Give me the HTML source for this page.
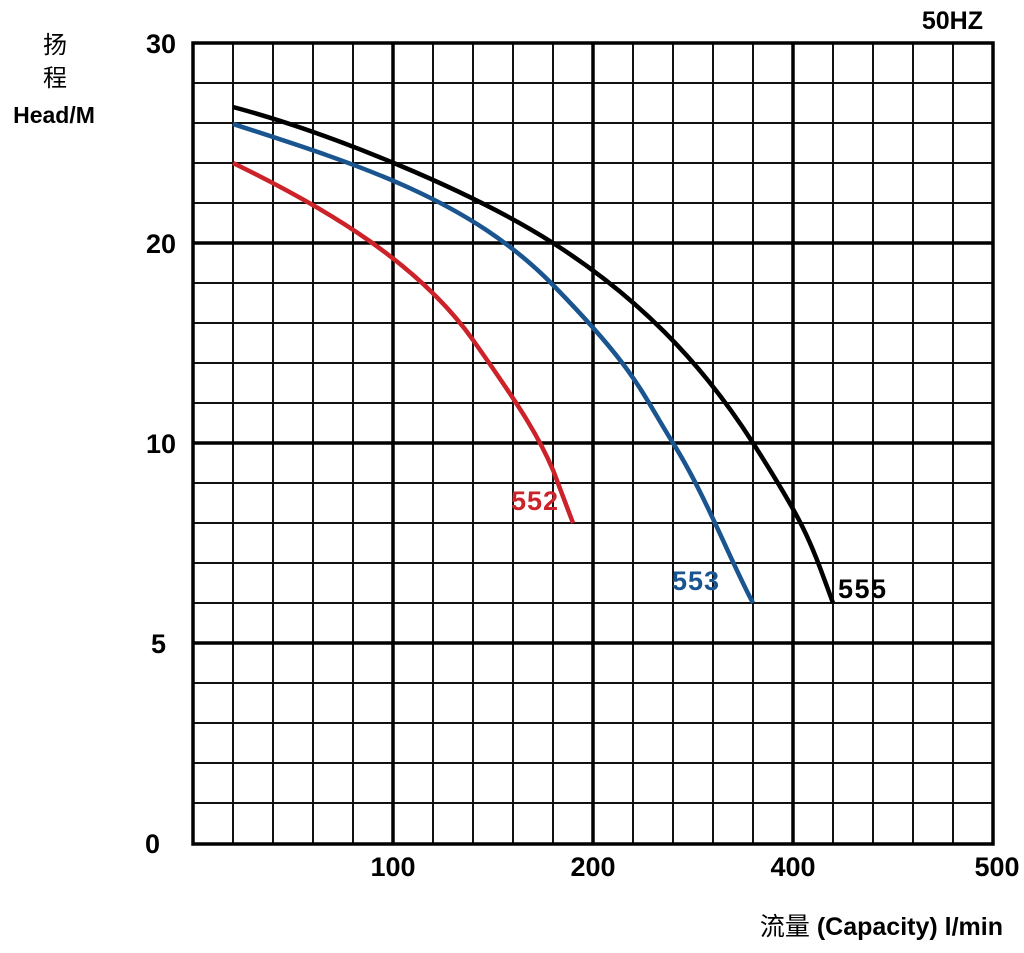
<!DOCTYPE html><html><head><style>body{margin:0;background:#fff;width:1024px;height:948px;overflow:hidden}</style></head><body>
<svg width="1024" height="948" xmlns="http://www.w3.org/2000/svg" font-family="Liberation Sans, Noto Sans CJK SC, sans-serif" font-weight="bold">
<g stroke="#111" stroke-width="2">
<path d="M233 43V844M273 43V844M313 43V844M353 43V844M433 43V844M473 43V844M513 43V844M553 43V844M633 43V844M673 43V844M713 43V844M753 43V844M833 43V844M873 43V844M913 43V844M953 43V844"/>
<path d="M193 83H993M193 123H993M193 163H993M193 203H993M193 283H993M193 323H993M193 363H993M193 403H993M193 483H993M193 523H993M193 563H993M193 603H993M193 683H993M193 723H993M193 763H993M193 803H993"/>
</g>
<g stroke="#000" stroke-width="3.5" fill="none">
<path d="M393 43V844M593 43V844M793 43V844M193 243H993M193 443H993M193 643H993"/>
<rect x="193" y="43" width="800" height="801"/>
</g>
<g fill="none" stroke-width="4.5">
<path d="M233 107 C330 133 470 190 553 243 S700 360 753 443 S810 540 833 603" stroke="#000"/>
<path d="M233 124 C360 165 470 200 553 285 S640 390 673 443 S730 560 753 603" stroke="#1a5590"/>
<path d="M233 163 C330 210 420 265 473 340 S540 440 553 470 L573 523" stroke="#cc2229"/>
</g>
<g font-size="27">
<text x="511" y="510" fill="#cc2229" textLength="47">552</text>
<text x="672" y="590" fill="#1a5590" textLength="47">553</text>
<text x="838" y="598" textLength="48">555</text>
<text x="176" y="53" text-anchor="end">30</text>
<text x="176" y="253" text-anchor="end">20</text>
<text x="176" y="453" text-anchor="end">10</text>
<text x="166" y="653" text-anchor="end">5</text>
<text x="160" y="853" text-anchor="end">0</text>
<text x="393" y="876" text-anchor="middle">100</text>
<text x="593" y="876" text-anchor="middle">200</text>
<text x="793" y="876" text-anchor="middle">400</text>
<text x="997" y="876" text-anchor="middle">500</text>
<text x="983" y="29" text-anchor="end" font-size="25">50HZ</text>
</g>
<text x="55" y="53" text-anchor="middle" font-size="24" font-weight="normal">扬</text>
<text x="55" y="86" text-anchor="middle" font-size="24" font-weight="normal">程</text>
<text x="54" y="123" text-anchor="middle" font-size="23">Head/M</text>
<text x="1003" y="935" text-anchor="end" font-size="25"><tspan font-weight="normal">流量</tspan> (Capacity)  l/min</text>
</svg></body></html>
